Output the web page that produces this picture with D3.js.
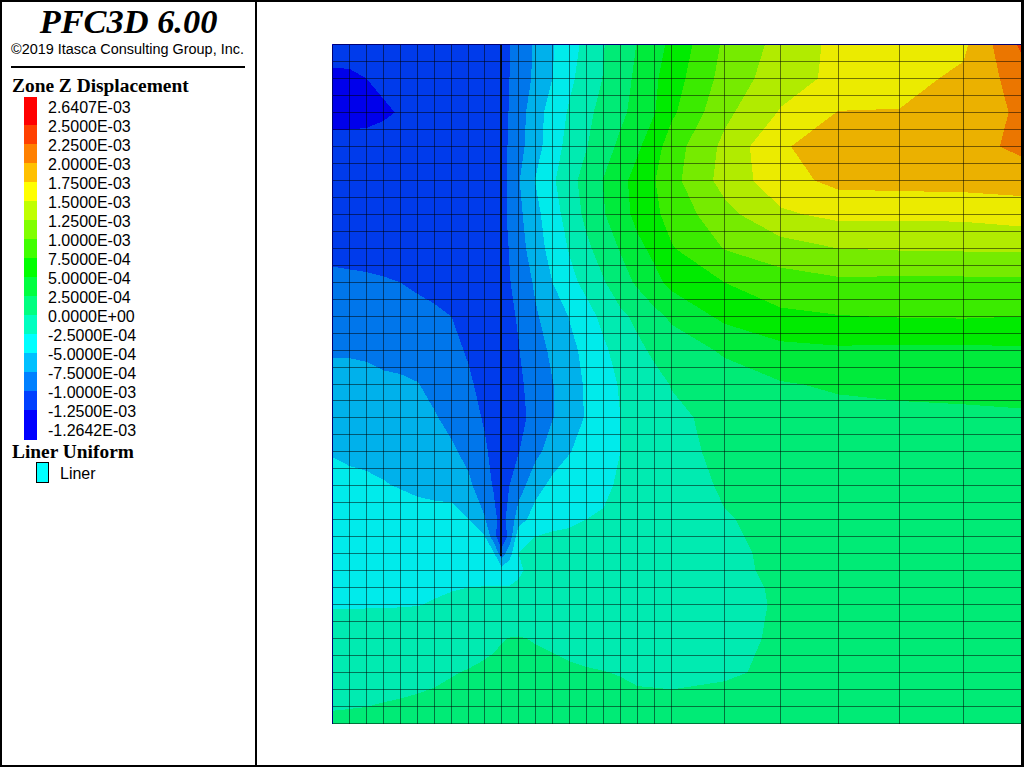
<!DOCTYPE html>
<html><head><meta charset="utf-8">
<script src="https://cdnjs.cloudflare.com/ajax/libs/d3/7.8.5/d3.min.js"></script>
<style>html,body{margin:0;padding:0;background:#fff;overflow:hidden}svg{display:block}</style>
</head><body><svg id="c" width="1024" height="768"></svg>
<script>
// Legend
const legendLabels = ["2.6407E-03","2.5000E-03","2.2500E-03","2.0000E-03","1.7500E-03","1.5000E-03","1.2500E-03","1.0000E-03","7.5000E-04","5.0000E-04","2.5000E-04","0.0000E+00","-2.5000E-04","-5.0000E-04","-7.5000E-04","-1.0000E-03","-1.2500E-03","-1.2642E-03"];
const legendColors = ["#ff0000","#ff4000","#ff8000","#ffc000","#ffff00","#c0ff00","#80ff00","#40ff00","#00ff00","#00ff40","#00ff80","#00ffc0","#00ffff","#00c0ff","#0080ff","#0040ff","#0000ff"];
// Contour levels, in units of 1e-4
const levels = [-12.5,-10,-7.5,-5,-2.5,0,2.5,5,7.5,10,12.5,15,17.5,20,22.5,25];
// Zone mesh node coordinates (model units)
const meshX = [-9.94,-8.94,-7.94,-6.94,-5.94,-4.94,-3.94,-2.94,-1.94,-1,0,1,2,3,4,5,6,7,8,9,10,13.12,16.41,19.82,23.41,27.18,30.59];
const meshY = [0,1,2,3,4,5,6,7,8,9,10,11,12,13,14,15,16,17,18,19,20,20.94,21.94,22.94,23.94,24.94,25.94,26.94,27.94,28.94,29.94,30.94,31.94,32.94,33.94,34.94,35.94,36.94,37.94,38.94,39.94];
// Where the displacement was read
const sampleX = [-9.94,-8.94,-7.94,-6.94,-5.94,-4.94,-3.94,-2.94,-1.94,-1,-0.47,0,0.47,1,2,3,4,5,6,7,8,9,10,13.12,16.41,19.82,23.41,27.18,30.59];
const sampleY = [0,2,4,6,8,10,12,14,16,18,20,21.94,23.94,25.94,27.94,28.94,29.94,30.94,31.94,32.94,34.94,36.94,38.94,39.94];
const linerY = [0,30.1];
// Z displacement read at each sample (1e-4)
const zRows = [
[-11.4,-11.5,-11.5,-11.4,-11.4,-11.3,-11.3,-11.2,-11.1,-11.0,-10.9,-10.7,-10.1,-9.2,-7.1,-5.2,-3.5,-1.8,-0.1,1.2,2.6,4.0,5.6,10.4,13.3,15.7,16.4,17.0,23],
[-13.0,-12.9,-12.5,-12.2,-12.0,-11.8,-11.6,-11.5,-11.4,-11.3,-11.2,-11.0,-10.0,-9.3,-6.9,-5.0,-3.0,-1.4,0.1,1.5,3.0,4.6,6.3,10.9,13.9,15.6,16.7,18.0,21.2],
[-13.2,-13.1,-13.0,-12.7,-12.4,-12.1,-11.9,-11.7,-11.5,-11.3,-11.1,-10.7,-9.9,-8.7,-6.0,-4.0,-2.2,-0.6,0.8,2.0,3.3,4.9,7.0,11.9,15.2,17.6,17.6,18.6,20.4],
[-11.8,-11.9,-11.9,-11.9,-11.9,-11.8,-11.7,-11.6,-11.5,-11.3,-11.1,-10.9,-9.7,-8.4,-5.9,-3.7,-1.6,-0.1,1.5,3.0,4.6,6.4,8.8,13.1,17.3,18.4,18.8,19.0,20.6],
[-11.3,-11.4,-11.5,-11.5,-11.5,-11.5,-11.5,-11.5,-11.5,-11.3,-11.2,-10.9,-9.5,-7.7,-4.9,-2.9,-0.8,0.9,2.6,4.3,5.9,7.4,9.2,13.4,16.5,18.2,18.4,18.5,18.6],
[-11.0,-11.1,-11.2,-11.3,-11.3,-11.3,-11.3,-11.3,-11.3,-11.2,-11.1,-10.9,-9.5,-8.1,-5.7,-3.5,-1.5,0.6,2.3,4.0,5.7,7.0,8.4,11.7,14.6,15.6,15.5,15.6,16.2],
[-10.8,-10.8,-10.9,-10.9,-11,-11,-11,-11.1,-11.1,-11.1,-11.0,-10.9,-9.9,-8.7,-6.0,-4.2,-2.3,-0.5,1.1,2.7,4.4,5.6,7.3,10.1,11.4,12.5,12.7,12.8,12.8],
[-9.3,-9.5,-9.6,-9.8,-10.0,-10.3,-10.5,-10.7,-10.9,-10.9,-10.9,-10.9,-10.1,-9.3,-7.1,-5,-3.2,-1.8,-0.2,1.4,2.9,4.3,5.7,7.5,8.9,9.5,9.4,9.4,9.5],
[-8.8,-8.8,-8.9,-9,-9.2,-9.4,-9.7,-10,-10.5,-10.8,-10.9,-10.8,-10.4,-9.8,-7.8,-6.3,-4.9,-3.4,-1.9,-0.5,0.5,1.8,2.9,5.6,7,7.4,7.6,7.7,7.5],
[-7.7,-7.7,-7.8,-8.2,-8.4,-8.7,-9,-9.5,-10.2,-10.8,-10.9,-10.9,-10.6,-10.1,-8.6,-7,-5.6,-4.4,-2.9,-1.6,-0.5,0.4,1.2,2.8,4.25,4.6,4.5,4.5,4.6],
[-6.8,-6.8,-6.9,-7,-7.1,-7.4,-8.2,-9,-9.7,-10.6,-10.9,-11,-10.9,-10.5,-8.9,-7.6,-6.1,-4.7,-3.4,-2.3,-1.6,-0.7,0.1,1.4,2.3,2.8,3,3.1,3.3],
[-6,-6,-6.1,-6.2,-6.4,-6.7,-7.3,-8.2,-9.2,-10.2,-10.7,-11,-11,-10.8,-9.1,-7.6,-6.1,-4.8,-3.6,-2.5,-2,-1.2,-0.5,0.7,1.4,1.8,2,2.1,2.2],
[-5.1,-5.3,-5.4,-5.5,-5.6,-5.8,-6.3,-7.1,-8.2,-9.7,-10.5,-11,-10.8,-10.1,-8.1,-6.5,-5.1,-4.2,-3.3,-2.5,-2,-1.6,-1.2,0.9,1,1.3,1.5,1.6,1.7],
[-4.5,-4.6,-4.7,-4.9,-5.1,-5.3,-5.4,-5.6,-7,-8.9,-10.2,-11,-10,-8.6,-6,-4.3,-3.9,-3.4,-2.9,-2.2,-1.9,-1.6,-1.2,0.3,0.8,1,1.1,1.2,1.3],
[-4,-4,-4,-4.1,-4.2,-4.4,-4.5,-4.4,-5,-7.3,-9.2,-11,-9,-6.3,-3.7,-3.2,-2.9,-2.5,-2.3,-2.1,-1.9,-1.6,-1.3,-0.15,0.6,0.8,0.9,1,1],
[-3.7,-3.7,-3.7,-3.8,-3.9,-4,-4.1,-4.2,-4.4,-4.8,-9,-12,-9.2,-3.2,-2.5,-2.2,-2.1,-2,-1.9,-1.8,-1.7,-1.5,-1.2,-0.3,0.55,0.7,0.8,0.9,0.9],
[-3.3,-3.4,-3.4,-3.5,-3.6,-3.7,-3.8,-3.9,-4,-4.2,-4.5,-9,-6,-2.5,-1.9,-1.8,-1.7,-1.6,-1.5,-1.4,-1.3,-1.2,-1.1,-0.5,0.5,0.6,0.7,0.8,0.8],
[-2.9,-2.9,-3,-3,-3.1,-3.2,-3.3,-3.4,-3.5,-3.7,-4,-3.8,-3.5,-2.8,-1.8,-1.7,-1.6,-1.5,-1.45,-1.4,-1.3,-1.2,-1.1,-0.5,0.4,0.5,0.6,0.7,0.7],
[-2.87,-2.87,-2.87,-2.85,-2.8,-2.75,-2.7,-2.6,-2.5,-2.4,-2.4,-2.35,-2.4,-2.2,-1.6,-1.5,-1.4,-1.35,-1.3,-1.25,-1.2,-1.1,-1,-0.5,0.2,0.4,0.5,0.6,0.6],
[-2.6,-2.6,-2.6,-2.6,-2.58,-2.55,-2.4,-2.2,-2,-1.9,-1.8,-1.8,-1.7,-1.6,-1.3,-1.25,-1.2,-1.15,-1.1,-1.05,-1,-0.95,-0.9,-0.5,0.15,0.35,0.45,0.5,0.5],
[-1.8,-1.8,-1.75,-1.7,-1.6,-1.5,-1.3,-1,-0.8,-0.5,-0.3,-0.1,0.05,0.1,-0.1,-0.25,-0.4,-0.5,-0.6,-0.65,-0.7,-0.7,-0.7,-0.3,0.15,0.3,0.4,0.45,0.45],
[-0.93,-0.85,-0.8,-0.72,-0.65,-0.5,-0.4,-0.1,0.1,0.3,0.4,0.5,0.55,0.55,0.5,0.35,0.2,0.1,0.03,-0.05,-0.2,-0.2,-0.2,-0.07,0.1,0.2,0.25,0.3,0.3],
[-0.1,-0.06,-0.01,0.1,0.2,0.3,0.5,0.6,0.7,0.8,0.85,0.9,0.95,1,0.9,0.85,0.75,0.6,0.45,0.35,0.3,0.25,0.2,0.2,0.2,0.25,0.3,0.3,0.3],
[0.3,0.35,0.4,0.5,0.6,0.7,0.8,0.9,1,1.1,1.1,1.1,1.1,1.2,1.1,1,0.9,0.8,0.7,0.6,0.5,0.4,0.4,0.4,0.4,0.4,0.4,0.4,0.4]
];

const svg = d3.select("#c");
const W = 1024, H = 768, SANS = "'Liberation Sans',Arial,sans-serif", SERIF = "'Liberation Serif','Times New Roman',serif";
svg.append("rect").attr("width",W).attr("height",H).attr("fill","#fff");

// Scales: model units to pixels
const x = d3.scaleLinear().domain([-9.94,30.59]).range([332.5,1021.5]);
const y = d3.scaleLinear().domain([0,39.94]).range([44.5,723.5]);
const snap = v => Math.floor(v) + 0.5;

// d3.contours puts sample i at i+0.5: map grid space through the scales
const gx = d3.scaleLinear().domain(sampleX.map((_,i)=>i+0.5)).range(sampleX.map(x)).clamp(true);
const gy = d3.scaleLinear().domain(sampleY.map((_,i)=>i+0.5)).range(sampleY.map(y)).clamp(true);
const path = d3.geoPath(d3.geoTransform({point(a,b){this.stream.point(gx(a),gy(b));}}));
const dim = c => { const r = d3.rgb(c), k = 0.92; return d3.rgb(r.r*k,r.g*k,r.b*k).formatHex(); };
const bandColors = legendColors.slice().reverse().map(dim);

svg.append("clipPath").attr("id","plot").append("rect")
  .attr("x",332).attr("y",44).attr("width",690).attr("height",680);
const plot = svg.append("g").attr("clip-path","url(#plot)");
plot.append("rect").attr("x",332).attr("y",44).attr("width",690).attr("height",680).attr("fill",bandColors[0]).attr("shape-rendering","crispEdges");
const contours = d3.contours().size([sampleX.length,sampleY.length]).thresholds(levels)(zRows.flat());
plot.selectAll("path.band").data(contours).join("path").attr("class","band")
  .attr("d",path).attr("fill",(d,i)=>bandColors[i+1]).attr("shape-rendering","crispEdges");

// Mesh
const meshG = plot.append("g").attr("stroke","#000").attr("stroke-opacity",0.5).attr("stroke-width",1).attr("shape-rendering","crispEdges");
meshG.selectAll("line.v").data(meshX).join("line").attr("class","v")
  .attr("x1",d=>snap(x(d))).attr("x2",d=>snap(x(d))).attr("y1",y(0)).attr("y2",y(39.94)+0.5);
meshG.selectAll("line.h").data(meshY).join("line").attr("class","h")
  .attr("y1",d=>snap(y(d))).attr("y2",d=>snap(y(d))).attr("x1",x(-9.94)).attr("x2",1022);
// Liner
plot.append("line").attr("x1",x(0)).attr("x2",x(0)).attr("y1",y(linerY[0])).attr("y2",y(linerY[1]))
  .attr("stroke","#000").attr("stroke-opacity",0.85).attr("stroke-width",2).attr("shape-rendering","crispEdges");

// Frame
const frame = svg.append("g").attr("fill","#000").attr("shape-rendering","crispEdges");
[[0,0,W,2],[0,765,W,2],[0,0,2,H],[1021,0,3,H],[255,0,2,H],[11,66,234,2]].forEach(r=>
  frame.append("rect").attr("x",r[0]).attr("y",r[1]).attr("width",r[2]).attr("height",r[3]));
svg.append("rect").attr("x",0).attr("y",767).attr("width",W).attr("height",1).attr("fill","#fff");

// Header
svg.append("text").attr("x",128.5).attr("y",33).attr("text-anchor","middle").attr("font-family",SERIF)
  .attr("font-weight","bold").attr("font-style","italic").attr("font-size",34.4).text("PFC3D 6.00");
svg.append("text").attr("x",11).attr("y",54).attr("font-family",SANS).attr("font-size",14.45).text("\u00a92019 Itasca Consulting Group, Inc.");
svg.append("text").attr("x",12).attr("y",92).attr("font-family",SERIF).attr("font-weight","bold").attr("font-size",19.4).text("Zone Z Displacement");

// Legend
const ly = d3.scalePoint().domain(legendLabels).range([107,430]);
svg.append("g").attr("shape-rendering","crispEdges").selectAll("rect").data(legendColors).join("rect")
  .attr("x",24).attr("width",13)
  .attr("y",(d,i)=> i===0 ? 97 : ly(legendLabels[i])-1)
  .attr("height",(d,i)=> i===0 ? ly(legendLabels[1])-1-97 : i===legendColors.length-1 ? 440-(ly(legendLabels[i])-1) : ly(legendLabels[i+1])-ly(legendLabels[i]))
  .attr("fill",d=>d);
svg.append("g").selectAll("text").data(legendLabels).join("text")
  .attr("x",48).attr("y",d=>ly(d)+5.5).attr("font-family",SANS).attr("font-size",16).text(d=>d);

svg.append("text").attr("x",12).attr("y",458).attr("font-family",SERIF).attr("font-weight","bold").attr("font-size",19.4).text("Liner Uniform");
svg.append("rect").attr("x",36.5).attr("y",462.5).attr("width",12).attr("height",20).attr("fill","#00ffff").attr("stroke","#000").attr("stroke-width",1).attr("shape-rendering","crispEdges");
svg.append("text").attr("x",60).attr("y",479).attr("font-family",SANS).attr("font-size",16).text("Liner");
</script></body></html>
